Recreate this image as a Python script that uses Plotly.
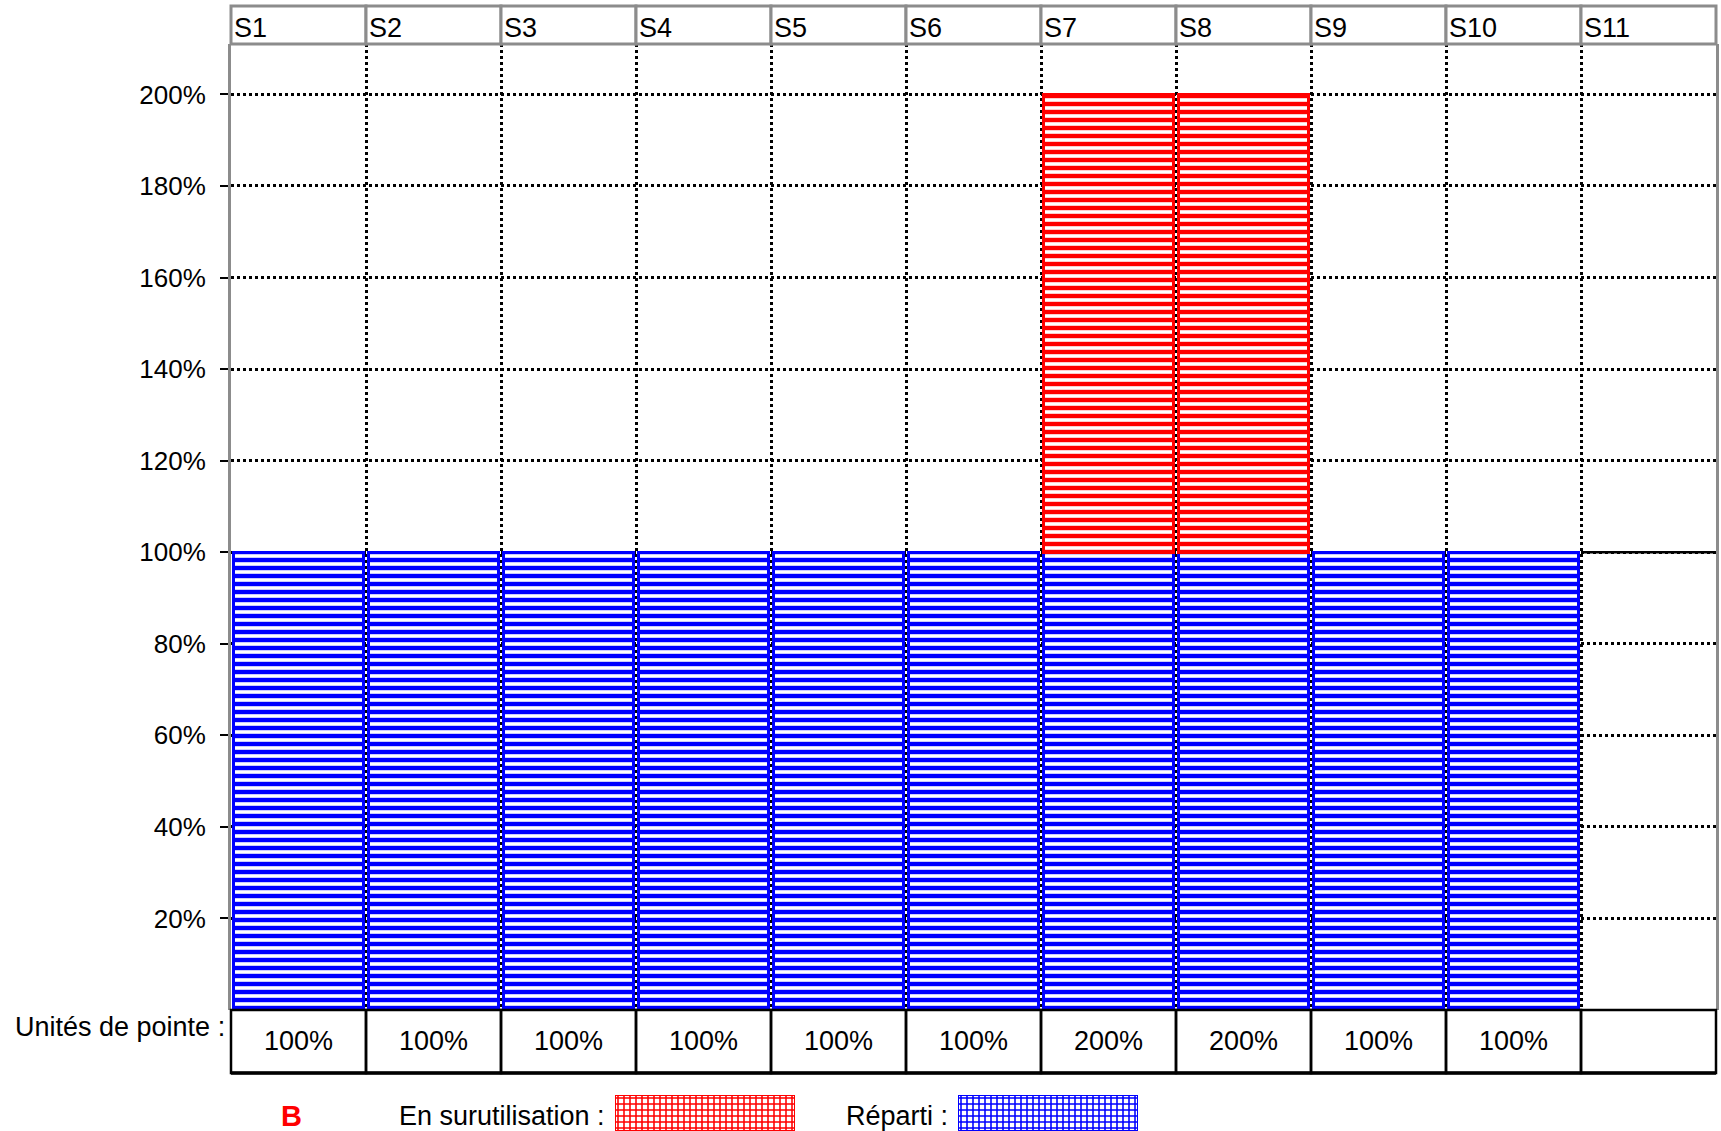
import plotly.graph_objects as go

W, H = 1721, 1131

# ---------------- data ----------------
categories = ["S1", "S2", "S3", "S4", "S5", "S6", "S7", "S8", "S9", "S10", "S11"]
reparti = [100, 100, 100, 100, 100, 100, 100, 100, 100, 100, None]
surutilisation = [None, None, None, None, None, None, 100, 100, None, None, None]
y_tick_values = [20, 40, 60, 80, 100, 120, 140, 160, 180, 200]
y_tick_labels = ["20%", "40%", "60%", "80%", "100%", "120%", "140%", "160%", "180%", "200%"]
row_label = "Unités de pointe :"
legend_labels = ["En surutilisation :", "Réparti :"]
panel_letter = "B"

# ---------------- layout geometry (pixels) ----------------
L, R = 231, 1716
head_top, plot_top, plot_bot, table_bot = 6, 44, 1010, 1073
FONT = "Liberation Sans, Arial, sans-serif"
BLUE, RED, GREY = "#0000ff", "#ff0000", "#8c8c8c"


def xp(px):
    return px / W


def yp(py):
    return 1 - py / H


n = len(categories)
totals = [(a or 0) + (b or 0) for a, b in zip(reparti, surutilisation)]
table_text = [f"{t}%" if t else "" for t in totals]

fig = go.Figure()

fig.add_trace(go.Bar(
    x=categories, y=reparti, name=legend_labels[1],
    marker=dict(color="white", line=dict(color=BLUE, width=3),
                pattern=dict(shape="-", fgcolor=BLUE, bgcolor="white", fgopacity=1,
                             size=8, solidity=0.55)),
    hoverinfo="skip"))
fig.add_trace(go.Bar(
    x=categories, y=surutilisation, name=legend_labels[0],
    marker=dict(color="white", line=dict(color=RED, width=3),
                pattern=dict(shape="-", fgcolor=RED, bgcolor="white", fgopacity=1,
                             size=8, solidity=0.55)),
    hoverinfo="skip"))

# legend swatches (checker-like)
fig.add_trace(go.Bar(
    x=[0], y=[1], width=[1], xaxis="x2", yaxis="y2",
    marker=dict(color="white", line=dict(color=RED, width=2),
                pattern=dict(shape="+", fgcolor=RED, bgcolor="white", fgopacity=1,
                             size=6, solidity=0.45)),
    hoverinfo="skip"))
fig.add_trace(go.Bar(
    x=[0], y=[1], width=[1], xaxis="x3", yaxis="y3",
    marker=dict(color="white", line=dict(color=BLUE, width=2),
                pattern=dict(shape="+", fgcolor=BLUE, bgcolor="white", fgopacity=1,
                             size=6, solidity=0.45)),
    hoverinfo="skip"))

shapes = []
annotations = []

# header cells
for i, c in enumerate(categories):
    shapes.append(dict(type="rect", xref="x domain", yref="paper",
                       x0=i / n, x1=(i + 1) / n, y0=yp(plot_top), y1=yp(head_top),
                       line=dict(color=GREY, width=3), fillcolor="white", layer="above"))
    annotations.append(dict(xref="x domain", yref="paper", x=i / n, y=yp(28),
                            text=c, showarrow=False, xanchor="left", yanchor="middle", xshift=1,
                            font=dict(family=FONT, size=27, color="black")))

# bottom table cells
for i, t in enumerate(table_text):
    shapes.append(dict(type="rect", xref="x domain", yref="paper",
                       x0=i / n, x1=(i + 1) / n, y0=yp(table_bot), y1=yp(plot_bot),
                       line=dict(color="black", width=2.5), layer="above"))
    annotations.append(dict(xref="x", yref="paper", x=categories[i], y=yp(1041),
                            text=t, showarrow=False, xanchor="center", yanchor="middle",
                            font=dict(family=FONT, size=27, color="black")))
shapes.append(dict(type="line", xref="x domain", yref="paper", x0=0, x1=1,
                   y0=yp(table_bot), y1=yp(table_bot), line=dict(color="black", width=3.5),
                   layer="above"))

# solid line at 100% on the last (empty) column
shapes.append(dict(type="line", xref="x", yref="y", x0=n - 1.5, x1=n - 0.5, y0=100, y1=100,
                   line=dict(color="black", width=2.5), layer="above"))

annotations.append(dict(xref="paper", yref="paper", x=xp(L - 4), y=yp(1027), text=row_label,
                        showarrow=False, xanchor="right", yanchor="middle",
                        font=dict(family=FONT, size=27, color="black")))

# legend texts
annotations.append(dict(xref="paper", yref="paper", x=xp(291), y=yp(1116), text=f"<b>{panel_letter}</b>",
                        showarrow=False, xanchor="center", yanchor="middle",
                        font=dict(family=FONT, size=29, color=RED)))
annotations.append(dict(xref="paper", yref="paper", x=xp(397), y=yp(1116), text=legend_labels[0],
                        showarrow=False, xanchor="left", yanchor="middle",
                        font=dict(family=FONT, size=27, color="black")))
annotations.append(dict(xref="paper", yref="paper", x=xp(844), y=yp(1116), text=legend_labels[1],
                        showarrow=False, xanchor="left", yanchor="middle",
                        font=dict(family=FONT, size=27, color="black")))

y_top = 200 * (plot_bot - plot_top) / (plot_bot - 94.4)

hidden = dict(visible=False, fixedrange=True)
fig.update_layout(
    width=W, height=H,
    margin=dict(l=0, r=0, t=0, b=0),
    paper_bgcolor="white", plot_bgcolor="white",
    barmode="stack", bargap=0.03, showlegend=False,
    font=dict(family=FONT, size=26, color="black"),
    xaxis=dict(domain=[xp(L), xp(R)], type="category", categoryorder="array",
               categoryarray=categories, range=[-0.5, n - 0.5],
               tickson="boundaries", showgrid=True, gridcolor="black", griddash="dot", gridwidth=2.5,
               showticklabels=False, ticks="", showline=False, zeroline=False, anchor="y"),
    yaxis=dict(domain=[yp(plot_bot), yp(plot_top)], range=[0, y_top],
               tickvals=y_tick_values, ticktext=y_tick_labels,
               ticks="outside", ticklen=8, tickwidth=2, tickcolor="black",
               ticklabelstandoff=9, tickfont=dict(family=FONT, size=26, color="black"),
               showgrid=True, gridcolor="black", griddash="dot", gridwidth=2.5,
               showline=True, linecolor=GREY, linewidth=3, mirror=True, zeroline=False, anchor="x"),
    xaxis2=dict(domain=[xp(615), xp(795)], range=[-0.5, 0.5], anchor="y2", **hidden),
    yaxis2=dict(domain=[0, 1 - 1095 / H], range=[0, 1], anchor="x2", **hidden),
    xaxis3=dict(domain=[xp(958), xp(1138)], range=[-0.5, 0.5], anchor="y3", **hidden),
    yaxis3=dict(domain=[0, 1 - 1095 / H], range=[0, 1], anchor="x3", **hidden),
    shapes=shapes, annotations=annotations,
)

fig.write_html("out.html")
